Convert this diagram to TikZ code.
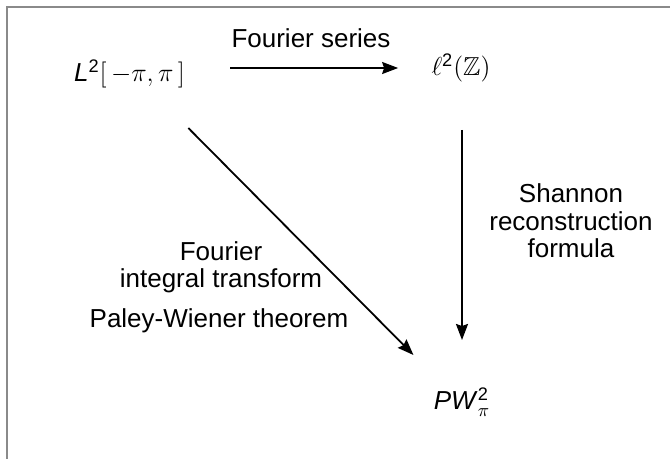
\RequirePackage{fix-cm}
\documentclass[tikz,border=0pt]{standalone}
\usepackage{amsmath,amssymb}
\usepackage{fontspec}
\setmainfont{Liberation Sans}
\usetikzlibrary{arrows.meta}
\definecolor{cFrame}{HTML}{8A8A8A}
\tikzset{
  node-space/.style={inner sep=0pt,anchor=base},
  node-label/.style={inner sep=0pt,anchor=base,align=center},
  arrow/.style={-{Stealth[length=8pt,width=6pt,inset=1pt]},line width=0.9pt},
}

\begin{document}
\begin{tikzpicture}[x=0.5pt,y=-0.5pt,font=\fontsize{13pt}{13.8pt}\selectfont]
  \useasboundingbox (0,0) rectangle (670,459);
  \draw[cFrame,line width=0.6pt] (7,459) -- (7,7) -- (670,7);
  % spaces
  \node[node-space] (l2int) at (129.5,82) {\textit{L}$^{\text{2}}[\,-\pi,\pi\,]$};
  \node[node-space] (ell)   at (461,76)   {$\ell^{\text{2}}(\mathbb{Z})$};
  \node[node-space] (pw)    at (462,410)  {\textit{PW}$^{\text{2}}_{\pi}$};
  % labels (base = last line)
  \node[node-label] (lbl-fs)  at (311,48)  {Fourier series};
  \node[node-label] (lbl-sh)  at (571,258) {Shannon\\reconstruction\\formula};
  \node[node-label] (lbl-fit) at (221,288) {Fourier\\integral transform};
  \node[node-label] (lbl-pw)  at (219,328) {Paley-Wiener theorem};
  % maps
  \draw[arrow] ([xshift=22.5pt,yshift=7pt]l2int.base east)
            -- ([xshift=-16.5pt,yshift=4pt]ell.base west);
  \draw[arrow] ([xshift=0.5pt,yshift=-27pt]ell.base)
            -- ([yshift=35pt]pw.base);
  \draw[arrow] ([xshift=1.5pt,yshift=-23pt]l2int.base east)
            -- ([xshift=-10pt,yshift=27.5pt]pw.base west);
\end{tikzpicture}
\end{document}
